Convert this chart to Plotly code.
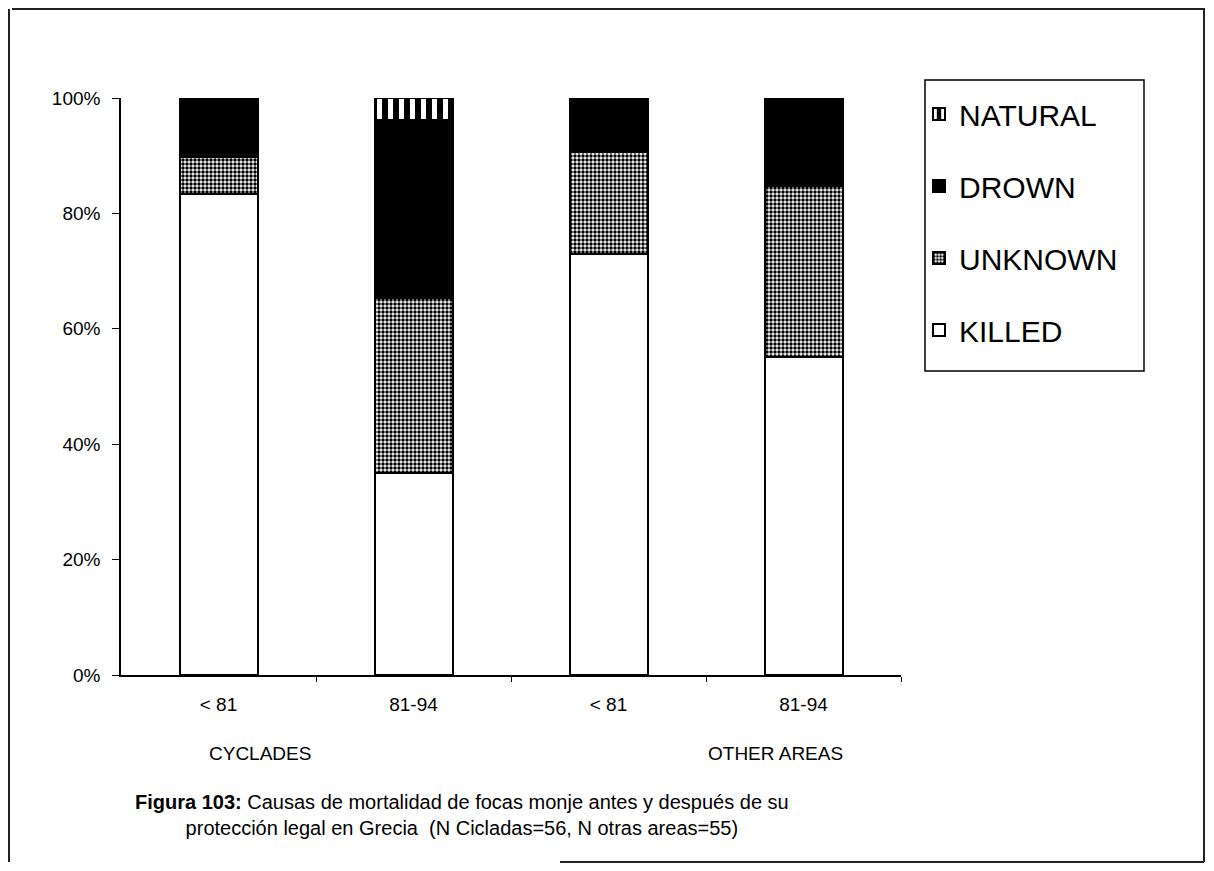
import plotly.graph_objects as go

# datos (porcentaje de cada causa por periodo)
periodos = ['< 81', '81-94', '< 81', '81-94']
zonas = ['CYCLADES', 'OTHER AREAS']
killed = [83.4, 35.0, 72.9, 55.2]
unknown = [6.3, 30.3, 17.8, 29.6]
drown = [10.3, 30.9, 9.3, 15.2]
natural = [0.0, 3.8, 0.0, 0.0]
ticks_y = [0, 20, 40, 60, 80, 100]

# la página tiene 8 px de margen: la figura ocupa el resto de la ventana
OFF = 8
W, H = 1214 - 2 * OFF, 871 - 2 * OFF
L, T = 121 - OFF, 98 - OFF
R, B = W - (901 - OFF), H - (675 - OFF)
pw, ph = W - L - R, H - T - B


def px(x):
    # x de la imagen de referencia -> coordenada paper
    return (x - OFF - L) / pw


def py(y):
    return (H - B - (y - OFF)) / ph


fuente = "Liberation Sans, Arial, sans-serif"
x = list(range(len(periodos)))

fig = go.Figure()
series = [
    ('KILLED', killed, dict(color='white'), 4),
    ('UNKNOWN', unknown, dict(color='white', pattern=dict(shape='.', fgcolor='black', bgcolor='white',
                                                          size=4, solidity=0.6, fgopacity=1)), 3),
    ('DROWN', drown, dict(color='black'), 2),
    ('NATURAL', natural, dict(color='black', pattern=dict(shape='|', fgcolor='white', bgcolor='black',
                                                          size=11, solidity=0.45, fgopacity=1)), 1),
]
for nombre, vals, mk, rank in series:
    mk = dict(mk, line=dict(color='black', width=2))
    fig.add_trace(go.Bar(
        x=x, y=vals, name=nombre, width=0.4, marker=mk,
        legendgroup=nombre, legendrank=rank,
    ))

# etiquetas de zona bajo el eje
for texto, xp in zip(zonas, [260, 775]):
    fig.add_annotation(x=px(xp), y=py(753), xref='paper', yref='paper', text=texto,
                       xanchor='center', yanchor='middle',
                       showarrow=False, font=dict(size=19, family=fuente, color='black'))

fig.add_annotation(
    x=px(462), y=py(815), xref='paper', yref='paper', showarrow=False, align='center',
    xanchor='center', yanchor='middle',
    text="<b>Figura 103:</b> Causas de mortalidad de focas monje antes y después de su<br>"
         "protección legal en Grecia  (N Cicladas=56, N otras areas=55)",
    font=dict(size=20, family=fuente, color='black'),
)

# caja de la leyenda
fig.add_shape(type='rect', xref='paper', yref='paper', x0=px(925), x1=px(1144), y0=py(80), y1=py(371),
              line=dict(color='black', width=1.5))

# marco exterior
marco = dict(color='#222', width=2)
fig.add_shape(type='line', xref='paper', yref='paper', x0=px(12), x1=px(1205), y0=py(9), y1=py(9), line=marco)
fig.add_shape(type='line', xref='paper', yref='paper', x0=px(9), x1=px(9), y0=py(9), y1=py(862), line=marco)
fig.add_shape(type='line', xref='paper', yref='paper', x0=px(1204), x1=px(1204), y0=py(9), y1=py(862), line=marco)
fig.add_shape(type='line', xref='paper', yref='paper', x0=px(560), x1=px(1204), y0=py(862), y1=py(862), line=marco)

fig.update_layout(
    width=W, height=H,
    barmode='stack',
    margin=dict(l=L, r=R, t=T, b=B, pad=0),
    paper_bgcolor='white', plot_bgcolor='white',
    font=dict(family=fuente, color='black', size=19),
    showlegend=True,
    legend=dict(
        x=px(919), y=py(88), xanchor='left', yanchor='top',
        borderwidth=0, bgcolor='rgba(0,0,0,0)',
        font=dict(size=30, family=fuente), tracegroupgap=30,
        itemwidth=30,
    ),
    xaxis=dict(
        range=[-0.5, 3.5], tickvals=x, ticktext=periodos, ticks='', ticklabelstandoff=11,
        showline=True, linecolor='black', linewidth=1.5, zeroline=False, showgrid=False,
        minor=dict(tickmode='array', tickvals=[0.5, 1.5, 2.5, 3.5], ticks='outside',
                   ticklen=5, tickcolor='black', showgrid=False),
        tickfont=dict(size=19), fixedrange=True,
    ),
    yaxis=dict(
        range=[0, 100], tickvals=ticks_y, ticktext=[f'{v}%' for v in ticks_y],
        ticks='outside', ticklen=7, tickcolor='black', ticklabelstandoff=8,
        showline=True, linecolor='black', linewidth=1.5, zeroline=False, showgrid=False,
        tickfont=dict(size=19), fixedrange=True,
    ),
)

fig.write_html("out.html")
